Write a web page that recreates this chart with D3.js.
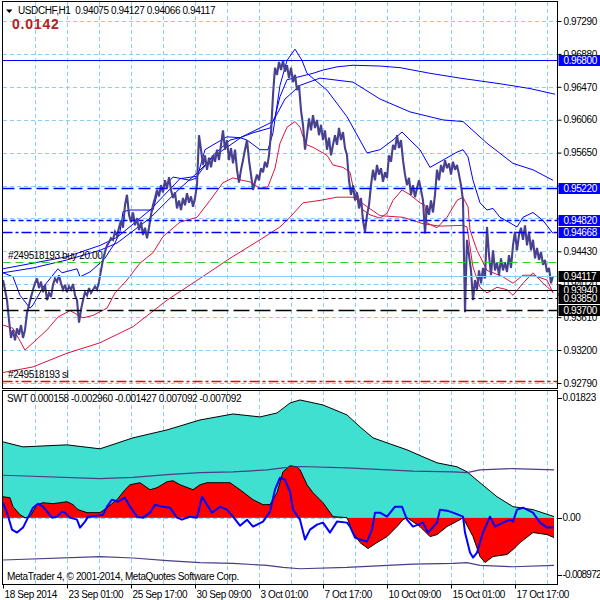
<!DOCTYPE html>
<html>
<head>
<meta charset="utf-8">
<script src="https://cdn.jsdelivr.net/npm/d3@7/dist/d3.min.js"></script>
<style>
html,body{margin:0;padding:0;background:#fff;}
svg{display:block;}
text{font-family:"Liberation Sans",Arial,sans-serif;}
</style>
</head>
<body>
<svg id="chart" width="600" height="600"></svg>
<script>
// ================= DATA =================
const symbolLabel = "USDCHF,H1";
const headerOHLC = [0.94075, 0.94127, 0.94066, 0.94117];
const infoValue = "0.0142";
const indicatorName = "SWT";
const swtValues = [0.000158, -0.002960, -0.001427, 0.007092, -0.007092];
const copyrightText = "MetaTrader 4, \u00A9 2001-2014, MetaQuotes Software Corp.";

const priceTicks = [0.9729, 0.96881, 0.96472, 0.96063, 0.95654, 0.95245, 0.94836, 0.94427, 0.94018, 0.93609, 0.932, 0.9279];
// 0.95240 and 0.94830 are completely covered by the object labels in the reference
const priceTickLabels = ["0.97290","0.96880","0.96470","0.96060","0.95650","","","0.94430","0.94020","0.93610","0.93200","0.92790"];
const subTicks = [0.01823, 0, -0.008972];
const subTickLabels = ["0.01823", "0.00", "-0.008972"];

const timeBars = [0, 64, 128, 192, 256, 320, 384, 448, 512];
const timeLabels = ["18 Sep 2014","23 Sep 01:00","25 Sep 17:00","30 Sep 09:00","3 Oct 01:00","7 Oct 17:00","10 Oct 09:00","15 Oct 01:00","17 Oct 17:00"];
const gridBarStep = 32;
const barCount = 554;

// close prices, one value every 2 H1 bars
const closeStep = 2;
const closePrices = [
 0.9407,0.9395,0.9382,0.9357,0.9335,0.9345,0.9332,0.9347,0.9339,0.9351,
 0.9335,0.9345,0.9366,0.9376,0.9386,0.9395,0.9403,0.9409,0.9397,0.9405,
 0.9392,0.9401,0.9382,0.9391,0.9386,0.9401,0.9409,0.9405,0.9413,0.9403,
 0.9395,0.9401,0.9392,0.9399,0.9395,0.9402,0.9388,0.9382,0.9354,0.9370,
 0.9382,0.9392,0.9388,0.9397,0.9391,0.9395,0.9399,0.9395,0.9405,0.9419,
 0.9432,0.9442,0.9450,0.9454,0.9459,0.9457,0.9467,0.9462,0.9472,0.9481,
 0.9472,0.9500,0.9513,0.9488,0.9479,0.9491,0.9475,0.9484,0.9469,0.9479,
 0.9463,0.9472,0.9459,0.9472,0.9488,0.9500,0.9509,0.9519,0.9511,0.9525,
 0.9516,0.9531,0.9521,0.9535,0.9519,0.9509,0.9516,0.9496,0.9506,0.9494,
 0.9509,0.9500,0.9515,0.9503,0.9511,0.9498,0.9509,0.9525,0.9587,0.9569,
 0.9550,0.9562,0.9544,0.9559,0.9547,0.9562,0.9554,0.9569,0.9556,0.9575,
 0.9593,0.9569,0.9581,0.9556,0.9571,0.9552,0.9569,0.9544,0.9528,0.9544,
 0.9556,0.9569,0.9581,0.9556,0.9538,0.9519,0.9529,0.9538,0.9531,0.9546,
 0.9541,0.9554,0.9547,0.9562,0.9590,0.9637,0.9671,0.9662,0.9678,0.9668,
 0.9680,0.9666,0.9674,0.9658,0.9671,0.9653,0.9662,0.9643,0.9649,0.9618,
 0.9600,0.9569,0.9587,0.9608,0.9593,0.9612,0.9596,0.9606,0.9587,0.9600,
 0.9581,0.9593,0.9569,0.9584,0.9562,0.9575,0.9587,0.9575,0.9596,0.9581,
 0.9591,0.9571,0.9562,0.9531,0.9513,0.9525,0.9506,0.9516,0.9496,0.9509,
 0.9481,0.9467,0.9488,0.9500,0.9525,0.9544,0.9531,0.9550,0.9538,0.9546,
 0.9529,0.9541,0.9534,0.9562,0.9554,0.9575,0.9569,0.9587,0.9571,0.9581,
 0.9556,0.9538,0.9525,0.9534,0.9513,0.9525,0.9510,0.9521,0.9531,0.9519,
 0.9506,0.9465,0.9500,0.9488,0.9506,0.9491,0.9513,0.9544,0.9531,0.9550,
 0.9541,0.9556,0.9546,0.9552,0.9538,0.9554,0.9544,0.9550,0.9538,0.9525,
 0.9506,0.9367,0.9457,0.9438,0.9419,0.9382,0.9407,0.9395,0.9419,0.9403,
 0.9422,0.9409,0.9473,0.9438,0.9413,0.9444,0.9419,0.9429,0.9413,0.9434,
 0.9419,0.9429,0.9417,0.9438,0.9422,0.9450,0.9467,0.9444,0.9463,0.9472,
 0.9457,0.9475,0.9450,0.9467,0.9444,0.9457,0.9434,0.9447,0.9432,0.9442,
 0.9426,0.9432,0.9417,0.9422,0.9403,0.9412
];

// indicator lines on the price chart: [bar, price]
const bandFastUpper = [[0,0.9416],[10,0.9411],[17,0.9388],[27,0.9372],[30,0.9376],[40,0.9398],[55,0.9421],[59,0.9416],[74,0.9421],[77,0.9411],[87,0.9417],[97,0.9428],[102,0.9434],[107,0.9444],[112,0.9453],[117,0.9467],[120,0.9492],[127,0.9494],[150,0.9494],[154,0.9513],[170,0.9535],[187,0.9531],[194,0.9534],[202,0.9569],[210,0.9575],[224,0.9585],[237,0.9584],[244,0.9581],[257,0.9569],[265,0.9569],[270,0.9590],[277,0.9649],[284,0.9680],[292,0.9694],[299,0.9680],[304,0.9664],[324,0.9643],[344,0.9610],[364,0.9565],[377,0.9569],[390,0.9581],[399,0.9591],[407,0.9581],[417,0.9569],[427,0.9547],[437,0.9554],[444,0.9559],[454,0.9566],[460,0.9569],[465,0.9560],[470,0.9531],[477,0.9503],[484,0.9494],[490,0.9496],[497,0.9485],[507,0.9478],[514,0.9473],[520,0.9485],[530,0.9491],[540,0.9481],[550,0.9465]];
const bandFastLower = [[0,0.9351],[10,0.9347],[22,0.9320],[30,0.9329],[44,0.9345],[55,0.9361],[67,0.9369],[80,0.9360],[90,0.9363],[104,0.9372],[112,0.9391],[124,0.9407],[137,0.9428],[150,0.9441],[160,0.9461],[177,0.9479],[194,0.9485],[207,0.9506],[220,0.9528],[230,0.9534],[239,0.9531],[247,0.9529],[257,0.9521],[265,0.9523],[272,0.9546],[277,0.9577],[284,0.9597],[292,0.9604],[297,0.9597],[300,0.9585],[304,0.9575],[310,0.9572],[324,0.9562],[330,0.9550],[340,0.9547],[347,0.9541],[350,0.9523],[354,0.9515],[360,0.9494],[367,0.9488],[377,0.9484],[384,0.9490],[390,0.9506],[399,0.9519],[407,0.9513],[417,0.9503],[422,0.9500],[424,0.9478],[434,0.9472],[444,0.9485],[454,0.9506],[460,0.9510],[465,0.9498],[467,0.9469],[474,0.9444],[484,0.9419],[500,0.9411],[510,0.9403],[520,0.9413],[530,0.9413],[544,0.9407],[550,0.9391]];
const bandSlowUpper = [[0,0.9421],[30,0.9428],[64,0.9436],[97,0.9450],[114,0.9460],[147,0.9494],[177,0.9533],[194,0.9536],[210,0.9562],[227,0.9581],[237,0.9584],[250,0.9590],[267,0.9596],[272,0.9610],[277,0.9635],[284,0.9656],[294,0.9659],[310,0.9664],[320,0.9668],[334,0.9672],[350,0.9674],[377,0.9673],[397,0.9671],[427,0.9664],[457,0.9658],[497,0.9651],[527,0.9645],[552,0.9638]];
const bandMiddle = [[0,0.9416],[30,0.9422],[64,0.9432],[97,0.9444],[114,0.9453],[147,0.9484],[177,0.9521],[194,0.9540],[210,0.9560],[239,0.9585],[270,0.9604],[282,0.9632],[297,0.9649],[317,0.9658],[350,0.9653],[377,0.9632],[407,0.9616],[440,0.9606],[460,0.9604],[484,0.9577],[510,0.9552],[530,0.9544],[550,0.9531]];
const bandSlowLower = [[0,0.9292],[30,0.9299],[64,0.9316],[97,0.9329],[130,0.9349],[164,0.9382],[197,0.9409],[227,0.9434],[257,0.9457],[277,0.9473],[287,0.9485],[300,0.9503],[317,0.9506],[334,0.9510],[350,0.9510],[362,0.9500],[377,0.9487],[400,0.9485],[420,0.9477],[437,0.9474],[460,0.9475],[464,0.9473],[470,0.9423],[477,0.9398],[484,0.9391],[494,0.9398],[504,0.9395],[510,0.9388],[520,0.9403],[530,0.9416],[540,0.9403],[550,0.9392]];

// horizontal objects
const blueLevelPrices = [0.9680, 0.9522, 0.9482, 0.94668];
const bidPrice = 0.94117;
const blackLevelPrices = [0.9394, 0.9385, 0.9370];
const orderTicket = "#249518193";
const orderType = "buy";
const orderLots = 20.00;
const orderOpenPrice = 0.9430;
const orderStopLoss = 0.9282;

// SWT sub-window: [bar, value]
const swtCyan = [[0,0.01126],[20,0.01052],[64,0.01082],[97,0.01023],[130,0.01186],[164,0.01304],[197,0.01452],[230,0.01541],[257,0.01497],[274,0.01556],[287,0.01704],[297,0.01749],[320,0.01675],[344,0.01527],[357,0.01349],[370,0.01186],[384,0.01112],[404,0.01008],[420,0.00904],[434,0.00815],[454,0.00756],[464,0.00682],[477,0.00519],[494,0.00311],[510,0.00163],[530,0.00119],[551,0.000158]];
const swtRed = [[0,0.00311],[7,0.00296],[10,0.00163],[17,0.00044],[22,0],[27,0.00015],[34,0.00193],[40,0.00222],[50,0.00207],[64,0.00237],[70,0.00193],[75,0.00119],[84,0.00074],[97,0.00074],[104,0.00148],[114,0.00267],[122,0.00415],[127,0.00489],[137,0.00519],[147,0.00415],[154,0.00445],[164,0.00534],[170,0.00548],[177,0.00489],[190,0.00415],[197,0.00489],[204,0.00519],[227,0.00519],[237,0.00415],[250,0.00267],[260,0.00193],[267,0.00193],[274,0.00371],[280,0.00682],[287,0.00771],[294,0.00756],[297,0.00711],[304,0.00489],[310,0.00371],[320,0.00222],[330,0.00015],[344,0],[350,-0.00222],[357,-0.00371],[365,-0.00459],[374,-0.00371],[384,-0.00282],[394,-0.00133],[400,-0.0003],[404,0],[417,-0.00133],[427,-0.00282],[434,-0.00252],[444,-0.00133],[457,-0.0003],[460,0],[470,-0.00282],[477,-0.00578],[482,-0.00667],[490,-0.00578],[504,-0.00548],[510,-0.00474],[517,-0.00371],[530,-0.00222],[544,-0.00252],[551,-0.00296]];
const swtBlue = [[0,0.00222],[4,0.00074],[9,-0.00178],[14,-0.00222],[20,-0.00148],[25,0],[30,0.00148],[35,0.00207],[40,0.00163],[45,0.00074],[49,0],[54,0.00015],[59,0.00089],[62,0.00074],[67,0],[74,-0.0003],[77,-0.00148],[82,-0.00059],[85,0.00015],[94,0.0003],[100,0.00044],[104,0.00163],[109,0.00267],[115,0.00237],[122,0.00296],[127,0.00163],[134,0.00015],[140,0],[147,0.00074],[152,0.00193],[160,0.00163],[167,0.00148],[174,0],[179,-0.0003],[187,0.00015],[194,0],[199,0.00311],[204,0.00193],[209,0.00074],[217,0.00163],[224,0.00119],[230,0.00015],[237,-0.00119],[244,-0.0003],[250,-0.00133],[260,-0.00059],[267,0.00089],[272,0.00415],[277,0.00593],[282,0.00563],[287,0.00385],[290,0.00119],[297,-0.0003],[302,-0.00326],[307,-0.00178],[314,-0.00104],[320,-0.00074],[327,-0.00222],[334,-0.00059],[344,-0.00074],[347,-0.00133],[352,-0.00296],[357,-0.00326],[364,-0.00356],[369,-0.00178],[372,0.00074],[377,0.00074],[384,0.00015],[392,0.00163],[399,0.00163],[404,-0.0003],[410,-0.00133],[420,-0.00074],[425,-0.00222],[434,-0.00074],[437,0.00119],[444,0.00104],[450,0.00074],[460,0.00015],[462,-0.00222],[467,-0.00519],[470,-0.00593],[474,-0.00519],[480,-0.00222],[487,0.00015],[492,-0.00133],[500,-0.00074],[507,-0.0003],[510,-0.00059],[514,0.00119],[520,0.00148],[530,0.00074],[537,-0.00074],[544,-0.00148],[551,-0.001427]];
const swtBandUpper = [[0,0.0063],[97,0.0058],[130,0.0060],[164,0.0064],[197,0.0067],[230,0.0068],[264,0.0071],[280,0.0074],[297,0.0076],[344,0.0074],[410,0.0069],[450,0.0068],[464,0.0067],[477,0.0071],[510,0.0073],[551,0.007092]];
const swtBandLower = [[0,-0.0063],[97,-0.0058],[130,-0.0060],[164,-0.0064],[197,-0.0067],[230,-0.0068],[264,-0.0071],[280,-0.0074],[297,-0.0076],[344,-0.0074],[410,-0.0069],[450,-0.0068],[464,-0.0067],[477,-0.0071],[510,-0.0073],[551,-0.007092]];

// ================= DRAWING =================
const svg = d3.select("#chart");
const FONT = '"Liberation Sans",Arial,sans-serif';
const TXT = {size: 10, ls: "-0.4px"};
const plotL = 2.5, plotR = 557.5, mainT = 1.5, mainB = 388.5, subT = 390.5, subB = 584.5;

const x = d3.scaleLinear().domain([0, barCount]).range([3, 557]);
const yP = d3.scaleLinear().domain([0.9279, 0.9729]).range([383, 21]);
const yS = d3.scaleLinear().domain([-0.008972, 0.01823]).range([578, 395]);
const crisp = v => Math.round(v) + 0.5;

const defs = svg.append("defs");
defs.append("clipPath").attr("id", "clipMain").append("rect")
  .attr("x", plotL + 0.5).attr("y", mainT + 0.5).attr("width", plotR - plotL - 1).attr("height", mainB - mainT - 1);
defs.append("clipPath").attr("id", "clipSub").append("rect")
  .attr("x", plotL + 0.5).attr("y", subT + 0.5).attr("width", plotR - plotL - 1).attr("height", subB - subT - 1);

const gridColor = "#87cefa";
const gridBars = d3.range(gridBarStep, barCount, gridBarStep);

// ---------- main panel ----------
const gMain = svg.append("g").attr("clip-path", "url(#clipMain)");
gMain.append("g").selectAll("line").data(gridBars).join("line")
  .attr("x1", d => crisp(x(d))).attr("x2", d => crisp(x(d)))
  .attr("y1", mainT).attr("y2", mainB)
  .attr("stroke", gridColor).attr("stroke-dasharray", "4,3").attr("shape-rendering", "crispEdges");
gMain.append("g").selectAll("line").data(priceTicks).join("line")
  .attr("x1", plotL).attr("x2", plotR)
  .attr("y1", d => crisp(yP(d))).attr("y2", d => crisp(yP(d)))
  .attr("stroke", gridColor).attr("stroke-dasharray", "4,3").attr("shape-rendering", "crispEdges");

const lineP = d3.line().x(d => x(d[0])).y(d => yP(d[1]));
const indicatorSeries = [
  {data: bandSlowLower, color: "#dc143c"},
  {data: bandFastLower, color: "#dc143c"},
  {data: bandSlowUpper, color: "#0000ff"},
  {data: bandMiddle, color: "#0000ff"},
  {data: bandFastUpper, color: "#0000ff"}
];
gMain.append("g").selectAll("path").data(indicatorSeries).join("path")
  .attr("d", d => lineP(d.data)).attr("fill", "none")
  .attr("stroke", d => d.color).attr("stroke-width", 1);

const pricePts = closePrices.map((p, i) => [i * closeStep, p]);
gMain.append("path").attr("d", lineP(pricePts)).attr("fill", "none")
  .attr("stroke", "#47418f").attr("stroke-width", 2.1).attr("stroke-linejoin", "miter").attr("stroke-miterlimit", 3);

// horizontal object lines
const levelDefs = [
  {p: blueLevelPrices[0], color: "#0000ff", dash: null, w: 1},
  {p: blueLevelPrices[1], color: "#0000ff", dash: "12,5", w: 1.5},
  {p: blueLevelPrices[2], color: "#0000ff", dash: "5,3", w: 1.3},
  {p: blueLevelPrices[3], color: "#0000ff", dash: "10,3,3,3", w: 1.3},
  {p: orderOpenPrice, color: "#32cd32", dash: "8,5", w: 1},
  {p: bidPrice, color: "#87cefa", dash: null, w: 1},
  {p: blackLevelPrices[0], color: "#000000", dash: null, w: 1},
  {p: blackLevelPrices[1], color: "#000000", dash: "4,3", w: 1},
  {p: blackLevelPrices[2], color: "#000000", dash: "16,5", w: 1.5},
  {p: orderStopLoss, color: "#ff0000", dash: "10,3,3,3", w: 1.5}
];
gMain.append("g").selectAll("line").data(levelDefs).join("line")
  .attr("x1", plotL).attr("x2", plotR)
  .attr("y1", d => crisp(yP(d.p))).attr("y2", d => crisp(yP(d.p)))
  .attr("stroke", d => d.color).attr("stroke-width", d => d.w)
  .attr("stroke-dasharray", d => d.dash);

const styleText = sel => sel.attr("font-size", TXT.size).style("letter-spacing", TXT.ls).attr("fill", "#000").attr("font-family", FONT);
gMain.append("text").attr("x", 8).attr("y", yP(orderOpenPrice) - 3)
  .text(`${orderTicket} ${orderType} ${orderLots.toFixed(2)}`).call(styleText);
gMain.append("text").attr("x", 8).attr("y", yP(orderStopLoss) - 3)
  .text(`${orderTicket} sl`).call(styleText);

// header
svg.append("path").attr("d", "M6,9.5 L12.5,9.5 L9.25,13 Z").attr("fill", "#000");
svg.append("text").attr("x", 18).attr("y", 14).style("white-space", "pre")
  .text(symbolLabel + "  " + headerOHLC.map(v => v.toFixed(5)).join(" ")).call(styleText);
svg.append("text").attr("x", 12).attr("y", 29).attr("font-size", 14).attr("font-weight", "bold")
  .attr("font-family", FONT).style("letter-spacing", "0.8px").attr("fill", "#b22222").text(infoValue);

// ---------- sub panel ----------
const gSub = svg.append("g").attr("clip-path", "url(#clipSub)");
gSub.append("g").selectAll("line").data(gridBars).join("line")
  .attr("x1", d => crisp(x(d))).attr("x2", d => crisp(x(d)))
  .attr("y1", subT).attr("y2", subB)
  .attr("stroke", gridColor).attr("stroke-dasharray", "4,3").attr("shape-rendering", "crispEdges");
gSub.append("line").attr("x1", plotL).attr("x2", plotR)
  .attr("y1", crisp(yS(0))).attr("y2", crisp(yS(0)))
  .attr("stroke", gridColor).attr("stroke-dasharray", "4,3").attr("shape-rendering", "crispEdges");

const areaS = d3.area().x(d => x(d[0])).y0(yS(0)).y1(d => yS(d[1]));
const lineS = d3.line().x(d => x(d[0])).y(d => yS(d[1]));
gSub.append("path").attr("d", areaS(swtCyan)).attr("fill", "#40e0d0");
gSub.append("path").attr("d", lineS(swtCyan)).attr("fill", "none").attr("stroke", "#000").attr("stroke-width", 1);
gSub.append("path").attr("d", areaS(swtRed)).attr("fill", "#ff0000");
gSub.append("path").attr("d", lineS(swtRed)).attr("fill", "none").attr("stroke", "#000").attr("stroke-width", 1);
gSub.append("path").attr("d", lineS(swtBandUpper)).attr("fill", "none").attr("stroke", "#483d8b").attr("stroke-width", 1.2);
gSub.append("path").attr("d", lineS(swtBandLower)).attr("fill", "none").attr("stroke", "#483d8b").attr("stroke-width", 1.2);
gSub.append("path").attr("d", lineS(swtBlue)).attr("fill", "none").attr("stroke", "#0000ff")
  .attr("stroke-width", 2).attr("stroke-linejoin", "round");

gSub.append("text").attr("x", 7).attr("y", 402).style("white-space", "pre")
  .text(indicatorName + " " + swtValues.map(v => v.toFixed(6)).join(" ")).call(styleText);
gSub.append("text").attr("x", 7).attr("y", 580).text(copyrightText).call(styleText);

// ---------- frames ----------
svg.append("rect").attr("x", plotL).attr("y", mainT).attr("width", plotR - plotL).attr("height", mainB - mainT)
  .attr("fill", "none").attr("stroke", "#000").attr("shape-rendering", "crispEdges");
svg.append("rect").attr("x", plotL).attr("y", subT).attr("width", plotR - plotL).attr("height", subB - subT)
  .attr("fill", "none").attr("stroke", "#000").attr("shape-rendering", "crispEdges");

// ---------- price axis ----------
const axP = d3.axisRight(yP).tickValues(priceTicks).tickFormat((d, i) => priceTickLabels[i]).tickSize(4).tickPadding(2);
const gAxP = svg.append("g").attr("transform", `translate(${plotR},0)`).call(axP);
gAxP.select(".domain").remove();
gAxP.selectAll("text").call(styleText);

// highlighted price labels
const boxDefs = [
  {p: blueLevelPrices[0], bg: "#0000ff"},
  {p: blueLevelPrices[1], bg: "#0000ff"},
  {p: blueLevelPrices[2], bg: "#0000ff"},
  {p: blueLevelPrices[3], bg: "#0000ff"},
  {p: bidPrice, bg: "#000000"},
  {p: blackLevelPrices[0], bg: "#000000"},
  {p: blackLevelPrices[1], bg: "#000000"},
  {p: blackLevelPrices[2], bg: "#000000"}
];
const gBox = svg.append("g");
boxDefs.forEach(b => {
  const yy = Math.round(yP(b.p));
  gBox.append("rect").attr("x", plotR + 1).attr("y", yy - 5).attr("width", 600 - plotR).attr("height", 11).attr("fill", b.bg);
  gBox.append("text").attr("x", plotR + 6).attr("y", yy + 4).text(b.p.toFixed(5))
    .call(styleText).attr("fill", "#fff");
});

// ---------- sub axis ----------
const gAxS = svg.append("g");
subTicks.forEach((v, i) => {
  const yy = Math.min(Math.max(yS(v), 397.5), 574.5);
  gAxS.append("line").attr("x1", plotR).attr("x2", plotR + 4).attr("y1", crisp(yy)).attr("y2", crisp(yy))
    .attr("stroke", "#000").attr("shape-rendering", "crispEdges");
  gAxS.append("text").attr("x", plotR + 5).attr("y", yy + 3.5).text(subTickLabels[i]).call(styleText)
    .style("letter-spacing", subTickLabels[i].length > 7 ? "-0.75px" : TXT.ls);
});

// ---------- time axis ----------
const axT = d3.axisBottom(x).tickValues(timeBars).tickFormat((d, i) => timeLabels[i]).tickSize(4).tickPadding(2);
const gAxT = svg.append("g").attr("transform", `translate(0,${subB})`).call(axT);
gAxT.select(".domain").remove();
gAxT.selectAll("text").call(styleText).attr("text-anchor", "start").attr("dx", 1);
</script>
</body>
</html>
